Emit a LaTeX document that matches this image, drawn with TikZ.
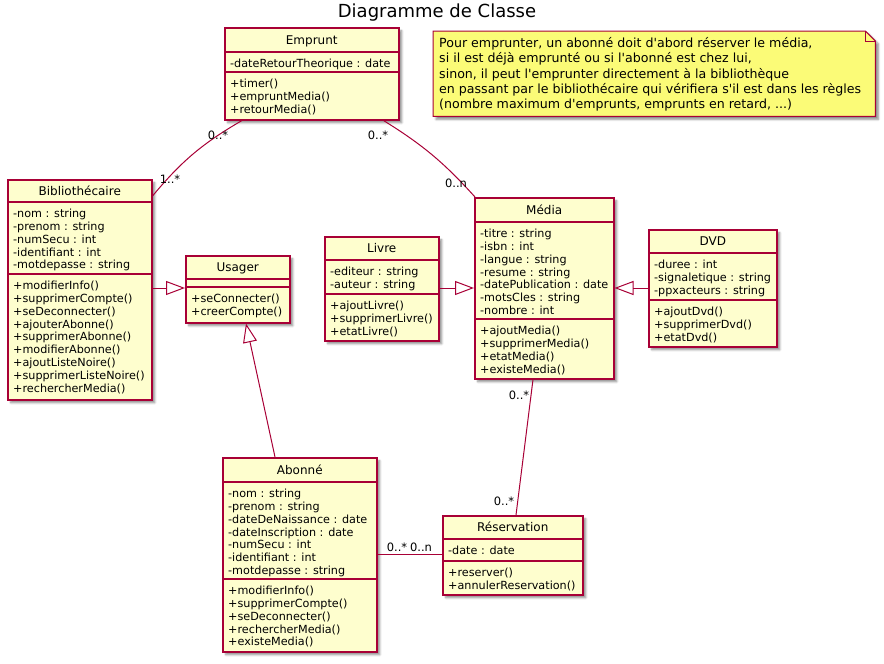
\documentclass[tikz,border=0pt]{standalone}
\usepackage{fontspec}
\setmainfont{DejaVu Sans}[Ligatures=TeXOff]
\usetikzlibrary{calc,arrows.meta,shadows.blur}

\definecolor{umlfill}{HTML}{FEFECE}
\definecolor{umlline}{HTML}{A80036}
\definecolor{notefill}{HTML}{FBFB77}

\tikzset{
  umlshadow/.style={blur shadow={shadow xshift=3pt, shadow yshift=-3pt,
      shadow blur radius=2pt, shadow blur steps=6, shadow opacity=45}},
  classbox/.style={draw=umlline, fill=umlfill, line width=1.5pt, inner sep=0pt,
      anchor=north west, umlshadow},
  classname/.style={font=\fontsize{12}{14}\selectfont, anchor=base, inner sep=0pt},
  members/.style={font=\fontsize{11.2}{12.8}\selectfont, align=left,
      anchor=north west, inner sep=0pt},
  divider/.style={draw=umlline, line width=1.5pt},
  assoc/.style={draw=umlline, line width=1pt},
  generalization/.style={draw=umlline, line width=1pt,
      -{Triangle[open, length=19pt, width=14pt]}},
  mult/.style={font=\fontsize{11.5}{13}\selectfont, inner sep=0pt},
  notetext/.style={font=\fontsize{12.6}{15.2}\selectfont, align=left,
      anchor=north west, inner sep=0pt},
  titletext/.style={font=\fontsize{18}{20}\selectfont, anchor=base, inner sep=0pt},
}

% \umlclass{name}{x,y}{width}{height}{header h}{attributes h}{title}{attributes}{operations}
\newcommand\umlclass[9]{%
  \node[classbox, minimum width=#3pt, minimum height=#4pt] (#1) at (#2) {};
  \draw[divider] ($(#1.north west)+(0,#5)$) -- ($(#1.north east)+(0,#5)$);
  \draw[divider] ($(#1.north west)+(0,#6)$) -- ($(#1.north east)+(0,#6)$);
  \node[classname] (#1-name) at ($(#1.north)+(0,#5/2+4.5)$) {#7};
  \node[members] (#1-attrs) at ($(#1.north west)+(6,#5+6.5)$) {\rule{0pt}{9pt}#8};
  \node[members] (#1-ops) at ($(#1.north west)+(6,#6+6.5)$) {\rule{0pt}{9pt}#9};
}

\begin{document}
\begin{tikzpicture}[x=1pt, y=-1pt]
\useasboundingbox (0,0) rectangle (884,664);

\node[titletext] (title) at (437,17) {Diagramme de Classe};

% classes
\umlclass{emprunt}{224,27}{174}{92}{25}{45}{Emprunt}
  {-dateRetourTheorique : date}
  {+timer()\\+empruntMedia()\\+retourMedia()}
\umlclass{biblio}{7,179}{144}{220}{23}{95}{Bibliothécaire}
  {-nom : string\\-prenom : string\\-numSecu : int\\-identifiant : int\\-motdepasse : string}
  {+modifierInfo()\\+supprimerCompte()\\+seDeconnecter()\\+ajouterAbonne()\\+supprimerAbonne()\\+modifierAbonne()\\+ajoutListeNoire()\\+supprimerListeNoire()\\+rechercherMedia()}
\umlclass{usager}{185,255}{104}{67}{24}{32}{Usager}
  {}
  {+seConnecter()\\+creerCompte()}
\umlclass{livre}{324,236}{114}{104}{24}{58}{Livre}
  {-editeur : string\\-auteur : string}
  {+ajoutLivre()\\+supprimerLivre()\\+etatLivre()}
\umlclass{media}{474,197}{139}{181}{25}{122}{Média}
  {-titre : string\\-isbn : int\\-langue : string\\-resume : string\\-datePublication : date\\-motsCles : string\\-nombre : int}
  {+ajoutMedia()\\+supprimerMedia()\\+etatMedia()\\+existeMedia()}
\umlclass{dvd}{648,229}{128}{117}{24}{71}{DVD}
  {-duree : int\\-signaletique : string\\-ppxacteurs : string}
  {+ajoutDvd()\\+supprimerDvd()\\+etatDvd()}
\umlclass{abonne}{222,457}{154}{194}{25}{122}{Abonné}
  {-nom : string\\-prenom : string\\-dateDeNaissance : date\\-dateInscription : date\\-numSecu : int\\-identifiant : int\\-motdepasse : string}
  {+modifierInfo()\\+supprimerCompte()\\+seDeconnecter()\\+rechercherMedia()\\+existeMedia()}
\umlclass{reservation}{442,515}{140}{79}{24}{46}{Réservation}
  {-date : date}
  {+reserver()\\+annulerReservation()}

% note with folded corner
\node[minimum width=442pt, minimum height=85pt, inner sep=0pt, anchor=north west] (note) at (433,31) {};
\filldraw[draw=umlline, fill=notefill, line width=1pt, umlshadow]
  (note.north west) -- ($(note.north east)+(-10,0)$) -- ($(note.north east)+(0,10)$)
  -- (note.south east) -- (note.south west) -- cycle;
\draw[umlline, line width=1pt]
  ($(note.north east)+(-10,0)$) -- ($(note.north east)+(-10,10)$) -- ($(note.north east)+(0,10)$);
\node[notetext] (notebody) at ($(note.north west)+(6,5.5)$) {\rule{0pt}{11pt}Pour emprunter, un abonné doit d'abord réserver le média,\\
si il est déjà emprunté ou si l'abonné est chez lui,\\
sinon, il peut l'emprunter directement à la bibliothèque\\
en passant par le bibliothécaire qui vérifiera s'il est dans les règles\\
(nombre maximum d'emprunts, emprunts en retard, ...)};

% associations
\draw[assoc] ($(emprunt.south west)+(18,0)$) to[bend right=10] ($(biblio.north east)+(0,17)$);
\draw[assoc] ($(emprunt.south east)+(-16,0)$) to[bend left=8] ($(media.north west)+(1,0)$);
\draw[assoc] ($(media.south west)+(59,0)$) -- ($(reservation.north west)+(74,0)$);
\draw[assoc] ($(abonne.north east)+(0,97)$) -- ($(reservation.north west)+(0,39)$);

% generalizations
\draw[generalization] ($(biblio.north east)+(0,109)$) -- ($(usager.north west)+(0,33)$);
\draw[generalization] ($(abonne.north west)+(53,0)$) -- ($(usager.south west)+(61,0)$);
\draw[generalization] ($(livre.north east)+(0,52)$) -- ($(media.north west)+(0,91)$);
\draw[generalization] ($(dvd.north west)+(0,59)$) -- ($(media.north east)+(0,91)$);

% multiplicities
\node[mult] (m1) at (218,135) {0..*};
\node[mult] (m2) at (170,179) {1..*};
\node[mult] (m3) at (378,135) {0..*};
\node[mult] (m4) at (456,183) {0..n};
\node[mult] (m5) at (519,395) {0..*};
\node[mult] (m6) at (504,501) {0..*};
\node[mult] (m7) at (397,547) {0..*};
\node[mult] (m8) at (421,547) {0..n};
\end{tikzpicture}
\end{document}
